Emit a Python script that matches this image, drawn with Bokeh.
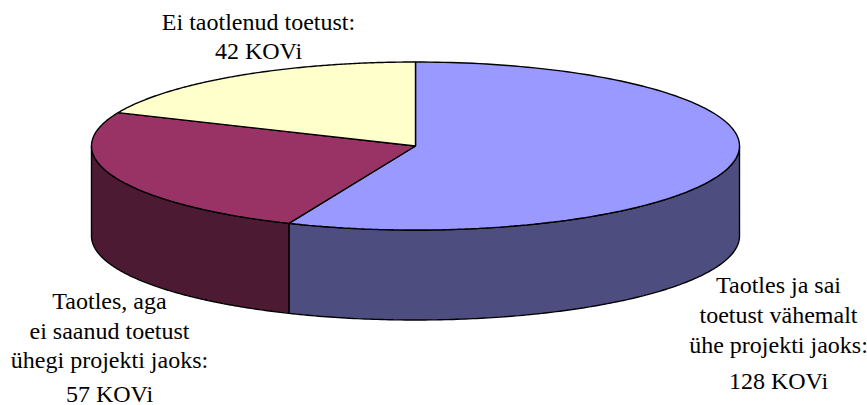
import math
from bokeh.plotting import figure
from bokeh.models import Range1d
from bokeh.core.properties import value
from bokeh.embed import file_html
from bokeh.resources import INLINE

categories = ["Taotles ja sai toetust vähemalt ühe projekti jaoks", "Taotles, aga ei saanud toetust ühegi projekti jaoks", "Ei taotlenud toetust"]
kov_counts = [128, 57, 42]
top_colors = ["#9999FF", "#993366", "#FFFFCC"]
side_colors = ["#4D4D80", "#4D1A33", "#808066"]
label_lines = [
    ["Taotles ja sai", "toetust vähemalt", "ühe projekti jaoks:", "128 KOVi"],
    ["Taotles, aga", "ei saanud toetust", "ühegi projekti jaoks:", "57 KOVi"],
    ["Ei taotlenud toetust:", "42 KOVi"],
]
label_x = [778, 109, 258]
label_baselines = [
    [293, 323, 353, 389],
    [309, 339, 368, 402],
    [30, 59],
]

CX, CY, RX, RY, DEPTH = 415.0, 145.5, 324.0, 84.0, 90.0
FONT_SIZE = "24px"

p = figure(width=867, height=405, output_backend="svg", toolbar_location=None,
           x_range=Range1d(0, 867), y_range=Range1d(405, 0), min_border=0,
           outline_line_color=None, background_fill_color="white")
p.axis.visible = False
p.grid.visible = False

def pt(theta):
    return CX + RX * math.sin(theta), CY - RY * math.cos(theta)

def arc(a0, a1, n=160):
    return [pt(a0 + (a1 - a0) * i / n) for i in range(n + 1)]

total = sum(kov_counts)
edges = [0.0]
for v in kov_counts:
    edges.append(edges[-1] + v / total * 2 * math.pi)

# Side walls (only the front half of the ellipse is visible)
for i, v in enumerate(kov_counts):
    a0 = max(edges[i], math.pi / 2)
    a1 = min(edges[i + 1], 3 * math.pi / 2)
    if a1 <= a0:
        continue
    pts = arc(a0, a1)
    xs = [q[0] for q in pts] + [q[0] for q in reversed(pts)]
    ys = [q[1] for q in pts] + [q[1] + DEPTH for q in reversed(pts)]
    p.patch(xs, ys, fill_color=side_colors[i], line_color="black", line_width=1.4)

# Top faces
for i, v in enumerate(kov_counts):
    pts = arc(edges[i], edges[i + 1])
    xs = [CX] + [q[0] for q in pts]
    ys = [CY] + [q[1] for q in pts]
    p.patch(xs, ys, fill_color=top_colors[i], line_color="black", line_width=1.4)

for lines, x, bases in zip(label_lines, label_x, label_baselines):
    p.text(x=[x] * len(lines), y=bases, text=lines, text_font=value("Liberation Serif"),
           text_font_size=value(FONT_SIZE), text_align="center", text_baseline="alphabetic",
           text_color="black", y_offset=-9)

open("out.html", "w").write(file_html(p, INLINE))
